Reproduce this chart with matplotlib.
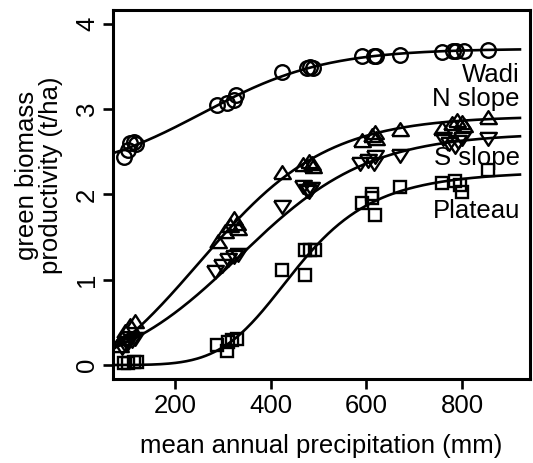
import numpy as np
import matplotlib
matplotlib.use('Agg')
import matplotlib.pyplot as plt

plt.rcParams['font.family'] = ['Liberation Sans', 'DejaVu Sans']

# mean annual precipitation (mm) and green biomass (t/ha)
wadi_x = [92, 102, 106, 113, 118, 287, 308, 322, 328, 423, 475, 482, 489,
          590, 615, 621, 670, 757, 782, 788, 803, 855]
wadi_y = [2.44, 2.52, 2.60, 2.61, 2.59, 3.05, 3.07, 3.11, 3.17, 3.44, 3.48, 3.50, 3.48,
          3.62, 3.63, 3.62, 3.64, 3.67, 3.68, 3.68, 3.68, 3.70]

nslope_x = [85, 89, 95, 106, 116, 290, 305, 315, 322, 329, 332, 423, 468, 479, 486, 488,
            590, 611, 618, 620, 670, 757, 778, 789, 799, 803, 855]
nslope_y = [0.21, 0.29, 0.37, 0.45, 0.49, 1.43, 1.55, 1.62, 1.70, 1.64, 1.58, 2.24, 2.33, 2.37, 2.35, 2.31,
            2.61, 2.68, 2.71, 2.64, 2.75, 2.76, 2.81, 2.85, 2.83, 2.79, 2.89]

sslope_x = [89, 95, 102, 109, 116, 284, 298, 311, 322, 332, 423, 468, 475, 480, 484,
            587, 604, 615, 618, 670, 761, 772, 785, 792, 799, 855]
sslope_y = [0.22, 0.26, 0.28, 0.30, 0.33, 1.11, 1.19, 1.25, 1.29, 1.31, 1.88, 2.11, 2.07, 2.05, 2.09,
            2.38, 2.42, 2.38, 2.46, 2.48, 2.68, 2.62, 2.58, 2.64, 2.68, 2.67]

plateau_x = [92, 102, 113, 120, 287, 308, 311, 318, 329, 423, 472, 472, 482, 492,
             590, 611, 611, 618, 670, 757, 785, 796, 800, 855]
plateau_y = [0.02, 0.02, 0.03, 0.03, 0.23, 0.16, 0.27, 0.29, 0.31, 1.11, 1.05, 1.35, 1.35, 1.35,
             1.90, 2.01, 1.96, 1.76, 2.09, 2.13, 2.16, 2.11, 2.03, 2.29]

# fitted curves: (lower, upper, midpoint, scale)
wadi_fit = (2.2, 3.71, 257, 128)
nslope_fit = (-0.52, 2.92, 250, 133)
sslope_fit = (-0.16, 2.72, 335, 135)
# plateau is a log-logistic: (lower, upper, midpoint, hill slope)
plateau_fit = (0.0, 2.28, 455, 5.5)

label_names = ['Wadi', 'N slope', 'S slope', 'Plateau']
label_y = [3.32, 3.04, 2.345, 1.72]


def logistic(x, lo, hi, mid, scale):
    return lo + (hi - lo) / (1 + np.exp(-(x - mid) / scale))


def log_logistic(x, lo, hi, mid, slope):
    return lo + (hi - lo) / (1 + (mid / x) ** slope)


tri_up = [(-1, -0.55), (1, -0.55), (0, 1.0), (-1, -0.55)]
tri_down = [(-1, 0.55), (1, 0.55), (0, -1.0), (-1, 0.55)]

fig = plt.figure(figsize=(5.33, 4.63), dpi=100)
ax = fig.add_axes([113 / 533, 1 - 379 / 463, (530 - 113) / 533, (379 - 10) / 463])

xc = np.linspace(70, 921, 300)
lw = 1.9
ax.plot(xc, logistic(xc, *wadi_fit), color='black', lw=lw)
ax.plot(xc, logistic(xc, *nslope_fit), color='black', lw=lw)
ax.plot(xc, logistic(xc, *sslope_fit), color='black', lw=lw)
ax.plot(xc, log_logistic(xc, *plateau_fit), color='black', lw=lw)

mk = dict(linestyle='none', markerfacecolor='none', markeredgecolor='black', markeredgewidth=1.7)
ax.plot(wadi_x, wadi_y, marker='o', markersize=10.5, **mk)
ax.plot(nslope_x, nslope_y, marker=tri_up, markersize=12, **mk)
ax.plot(sslope_x, sslope_y, marker=tri_down, markersize=12, **mk)
ax.plot(plateau_x, plateau_y, marker='s', markersize=8.8, **mk)

for name, y in zip(label_names, label_y):
    ax.text(921, y, name, ha='right', va='baseline', fontsize=18.5)

ax.set_xlim(70, 942)
ax.set_ylim(-0.164, 4.164)
ax.set_xticks([200, 400, 600, 800])
ax.set_yticks([0, 1, 2, 3, 4])
for s in ax.spines.values():
    s.set_linewidth(2.2)
ax.tick_params(axis='both', direction='out', length=7, width=1.9, labelsize=18.5, pad=4)
ax.tick_params(axis='y', labelrotation=90, pad=3)
for lbl in ax.get_yticklabels():
    lbl.set_va('center')

ax.set_xlabel('mean annual precipitation (mm)', fontsize=18.5, labelpad=11)
fig.text(0.074, 1 - 175 / 463, 'green biomass\nproductivity (t/ha)', rotation=90,
         ha='center', va='center', multialignment='center', fontsize=18.5, linespacing=1.0)

fig.savefig('out.png', dpi=100)
